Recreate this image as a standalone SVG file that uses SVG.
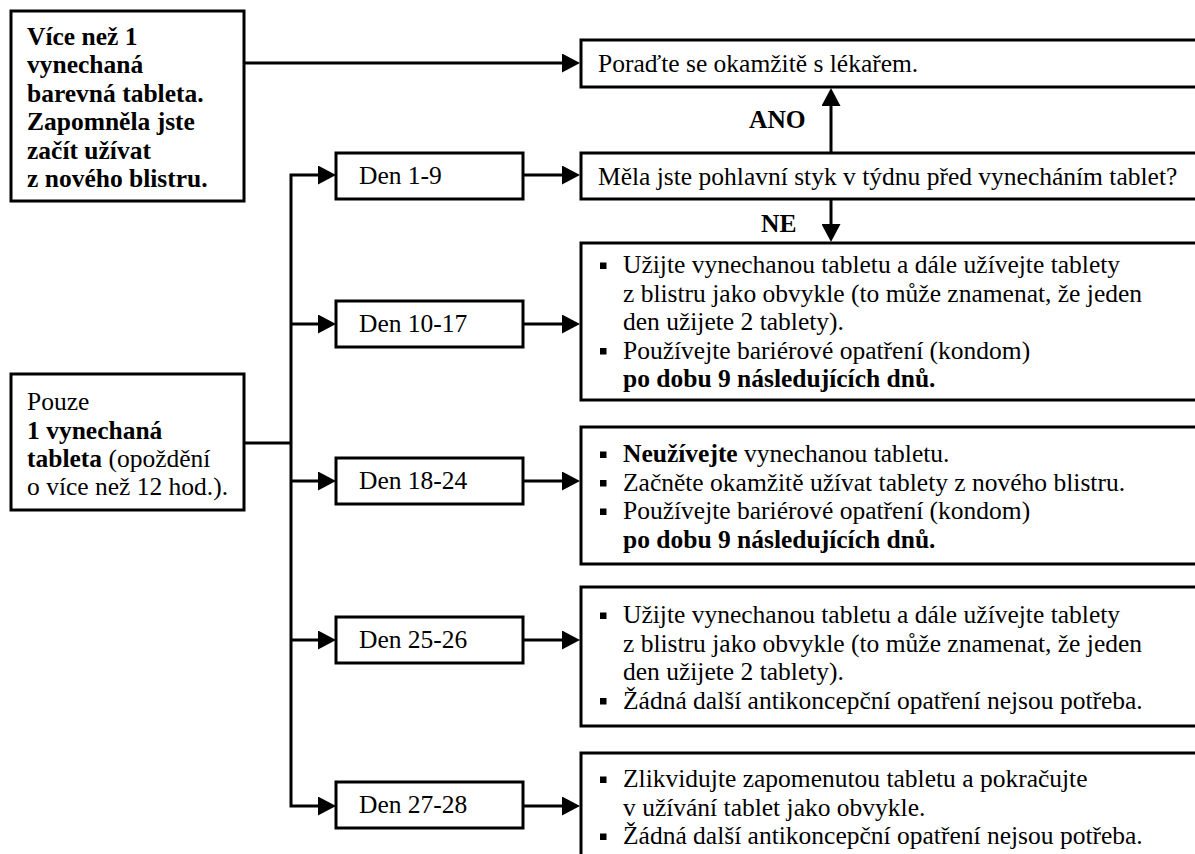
<svg xmlns="http://www.w3.org/2000/svg" width="1195" height="854" viewBox="0 0 1195 854">
<style>
.box{fill:#fff;stroke:#000;stroke-width:3}
.ln{fill:none;stroke:#000;stroke-width:3}
text{font-family:'Liberation Serif','Times New Roman','DejaVu Serif',serif;font-size:25.5px;fill:#000}
.b{font-weight:bold}
.bul{fill:#000}
</style>
<defs>
<marker id="ah" markerUnits="userSpaceOnUse" markerWidth="18" markerHeight="19" refX="8" refY="9.5" orient="auto">
<path d="M0,0 L18,9.5 L0,19 z" fill="#000"/>
</marker>
</defs>
<rect width="1195" height="854" fill="#fff"/>

<g id="connectors">
<line class="ln" x1="244" y1="63" x2="570" y2="63" marker-end="url(#ah)"/>
<line class="ln" x1="244" y1="443" x2="291" y2="443"/>
<path class="ln" d="M326,175 H291 V806 H326"/>
<line class="ln" x1="291" y1="324" x2="326" y2="324" marker-end="url(#ah)"/>
<line class="ln" x1="291" y1="481" x2="326" y2="481" marker-end="url(#ah)"/>
<line class="ln" x1="291" y1="640" x2="326" y2="640" marker-end="url(#ah)"/>
<line class="ln" x1="320" y1="175" x2="326" y2="175" marker-end="url(#ah)"/>
<line class="ln" x1="320" y1="806" x2="326" y2="806" marker-end="url(#ah)"/>
<line class="ln" x1="523" y1="175" x2="570" y2="175" marker-end="url(#ah)"/>
<line class="ln" x1="523" y1="324" x2="570" y2="324" marker-end="url(#ah)"/>
<line class="ln" x1="523" y1="481" x2="570" y2="481" marker-end="url(#ah)"/>
<line class="ln" x1="523" y1="640" x2="570" y2="640" marker-end="url(#ah)"/>
<line class="ln" x1="523" y1="806" x2="570" y2="806" marker-end="url(#ah)"/>
<line class="ln" x1="831" y1="153" x2="831" y2="98" marker-end="url(#ah)"/>
<line class="ln" x1="831" y1="199" x2="831" y2="232" marker-end="url(#ah)"/>
<text class="b" x="749" y="128" font-family="Liberation Serif, serif">ANO</text>
<text class="b" x="761" y="232" font-family="Liberation Serif, serif">NE</text>
</g>

<g id="n-more" font-family="Liberation Serif, serif">
<rect class="box" x="11" y="11" width="233" height="190"/>
<text class="b" x="27" y="44.5">Více než 1</text>
<text class="b" x="27" y="73">vynechaná</text>
<text class="b" x="27" y="101.5">barevná tableta.</text>
<text class="b" x="27" y="130">Zapomněla jste</text>
<text class="b" x="27" y="158.5">začít užívat</text>
<text class="b" x="27" y="187">z nového blistru.</text>
</g>

<g id="n-one">
<rect class="box" x="11" y="374" width="233" height="136"/>
<text x="27" y="410">Pouze</text>
<text class="b" x="27" y="439">1 vynechaná</text>
<text x="27" y="467"><tspan class="b">tableta</tspan> (opoždění</text>
<text x="27" y="495">o více než 12 hod.).</text>
</g>

<g id="n-den1">
<rect class="box" x="336" y="153" width="187" height="46"/>
<text x="359" y="184">Den 1-9</text>
</g>
<g id="n-den10">
<rect class="box" x="336" y="301" width="187" height="46"/>
<text x="359" y="332">Den 10-17</text>
</g>
<g id="n-den18">
<rect class="box" x="336" y="458" width="187" height="46"/>
<text x="359" y="489">Den 18-24</text>
</g>
<g id="n-den25">
<rect class="box" x="336" y="617" width="187" height="46"/>
<text x="359" y="648">Den 25-26</text>
</g>
<g id="n-den27">
<rect class="box" x="336" y="782" width="187" height="46"/>
<text x="359" y="813">Den 27-28</text>
</g>

<g id="n-doctor">
<rect class="box" x="581" y="40" width="640" height="47"/>
<text x="598" y="72">Poraďte se okamžitě s lékařem.</text>
</g>

<g id="n-question">
<rect class="box" x="581" y="153" width="640" height="46"/>
<text x="598" y="185">Měla jste pohlavní styk v týdnu před vynecháním tablet?</text>
</g>

<g id="n-r10">
<rect class="box" x="581" y="243" width="640" height="157"/>
<rect class="bul" x="600" y="262.5" width="6.5" height="6.5"/>
<text x="623" y="273">Užijte vynechanou tabletu a dále užívejte tablety</text>
<text x="623" y="301.5">z blistru jako obvykle (to může znamenat, že jeden</text>
<text x="623" y="330">den užijete 2 tablety).</text>
<rect class="bul" x="600" y="348" width="6.5" height="6.5"/>
<text x="623" y="358.5">Používejte bariérové opatření (kondom)</text>
<text class="b" x="623" y="387">po dobu 9 následujících dnů.</text>
</g>

<g id="n-r18">
<rect class="box" x="581" y="427" width="640" height="137"/>
<rect class="bul" x="600" y="451.5" width="6.5" height="6.5"/>
<text x="623" y="462"><tspan class="b">Neužívejte</tspan> vynechanou tabletu.</text>
<rect class="bul" x="600" y="480" width="6.5" height="6.5"/>
<text x="623" y="490.5">Začněte okamžitě užívat tablety z nového blistru.</text>
<rect class="bul" x="600" y="508.5" width="6.5" height="6.5"/>
<text x="623" y="519">Používejte bariérové opatření (kondom)</text>
<text class="b" x="623" y="547.5">po dobu 9 následujících dnů.</text>
</g>

<g id="n-r25">
<rect class="box" x="581" y="587" width="640" height="139"/>
<rect class="bul" x="600" y="612.5" width="6.5" height="6.5"/>
<text x="623" y="623">Užijte vynechanou tabletu a dále užívejte tablety</text>
<text x="623" y="651.5">z blistru jako obvykle (to může znamenat, že jeden</text>
<text x="623" y="680">den užijete 2 tablety).</text>
<rect class="bul" x="600" y="698" width="6.5" height="6.5"/>
<text x="623" y="708.5">Žádná další antikoncepční opatření nejsou potřeba.</text>
</g>

<g id="n-r27">
<rect class="box" x="581" y="753" width="640" height="120"/>
<rect class="bul" x="600" y="776.5" width="6.5" height="6.5"/>
<text x="623" y="787">Zlikvidujte zapomenutou tabletu a pokračujte</text>
<text x="623" y="815.5">v užívání tablet jako obvykle.</text>
<rect class="bul" x="600" y="833.5" width="6.5" height="6.5"/>
<text x="623" y="844">Žádná další antikoncepční opatření nejsou potřeba.</text>
</g>
</svg>
